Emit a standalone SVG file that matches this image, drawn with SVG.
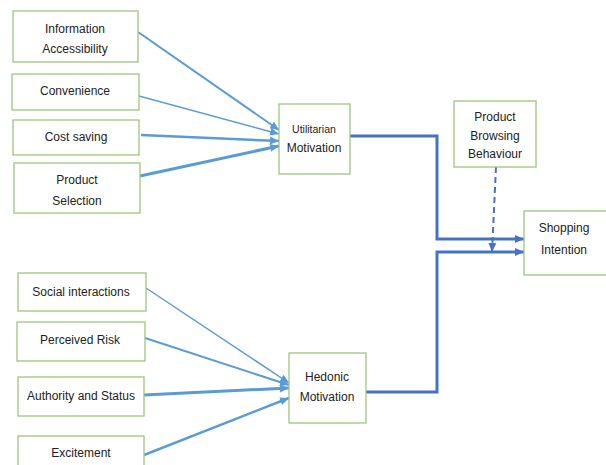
<svg xmlns="http://www.w3.org/2000/svg" width="606" height="465" viewBox="0 0 606 465">
<style>
.box{fill:#fff;stroke:#9dc77a;stroke-width:1.3}
text{font-family:"Liberation Sans",Arial,sans-serif;font-size:12px;fill:#222;text-anchor:middle;dominant-baseline:central}
.lb{fill:none;stroke:#5b9bd5}
.db{fill:none;stroke:#4472c4;stroke-width:3}
</style>
<defs>
<marker id="a1" markerUnits="userSpaceOnUse" markerWidth="10" markerHeight="10" refX="9" refY="5" orient="auto"><path d="M0,1 L9,5 L0,9 Z" fill="#5b9bd5"/></marker>
<marker id="a2" markerUnits="userSpaceOnUse" markerWidth="10" markerHeight="10" refX="9" refY="5" orient="auto"><path d="M0,1 L9,5 L0,9 Z" fill="#4472c4"/></marker>
</defs>
<rect width="606" height="465" fill="#fff"/>
<g id="connectors">
<line class="lb" x1="138" y1="32" x2="279" y2="130" stroke-width="2" marker-end="url(#a1)"/>
<line class="lb" x1="139" y1="96" x2="279" y2="134" stroke-width="1.5" marker-end="url(#a1)"/>
<line class="lb" x1="141" y1="135" x2="279" y2="141" stroke-width="2.5" marker-end="url(#a1)"/>
<line class="lb" x1="140" y1="176" x2="279" y2="146" stroke-width="3" marker-end="url(#a1)"/>
<line class="lb" x1="146" y1="288" x2="289" y2="383" stroke-width="1.5" marker-end="url(#a1)"/>
<line class="lb" x1="145" y1="338" x2="289" y2="385" stroke-width="2" marker-end="url(#a1)"/>
<line class="lb" x1="144" y1="395" x2="289" y2="388" stroke-width="3" marker-end="url(#a1)"/>
<line class="lb" x1="144" y1="455" x2="289" y2="398" stroke-width="2.5" marker-end="url(#a1)"/>
<polyline class="db" points="350,136 437,136 437,239 524,239" marker-end="url(#a2)"/>
<polyline class="db" points="366,392 437,392 437,252 524,252" marker-end="url(#a2)"/>
<line x1="496" y1="167" x2="492" y2="252" stroke="#4472c4" stroke-width="2" stroke-dasharray="6,4" marker-end="url(#a2)"/>
</g>
<g id="info"><rect class="box" x="13" y="11" width="125" height="51"/><text x="75" y="29">Information</text><text x="75" y="49">Accessibility</text></g>
<g id="convenience"><rect class="box" x="12" y="74" width="127" height="36"/><text x="75" y="91">Convenience</text></g>
<g id="cost"><rect class="box" x="13" y="120" width="126" height="35"/><text x="76" y="137">Cost saving</text></g>
<g id="selection"><rect class="box" x="14" y="163" width="126" height="50"/><text x="77" y="180">Product</text><text x="77" y="201">Selection</text></g>
<g id="utilitarian"><rect class="box" x="279" y="104" width="71" height="70"/><text x="314" y="129" style="font-size:10.5px">Utilitarian</text><text x="314" y="148">Motivation</text></g>
<g id="browsing"><rect class="box" x="454" y="101" width="82" height="66"/><text x="495" y="117">Product</text><text x="495" y="136">Browsing</text><text x="495" y="154">Behaviour</text></g>
<g id="shopping"><rect class="box" x="524" y="211" width="90" height="64"/><text x="564" y="228">Shopping</text><text x="564" y="250">Intention</text></g>
<g id="social"><rect class="box" x="18" y="273" width="128" height="38"/><text x="81" y="292">Social interactions</text></g>
<g id="risk"><rect class="box" x="17" y="322" width="128" height="39"/><text x="80" y="340">Perceived Risk</text></g>
<g id="authority"><rect class="box" x="18" y="377" width="126" height="39"/><text x="81" y="396">Authority and Status</text></g>
<g id="excitement"><rect class="box" x="18" y="436" width="126" height="40"/><text x="81" y="453">Excitement</text></g>
<g id="hedonic"><rect class="box" x="289" y="353" width="77" height="70"/><text x="327" y="377">Hedonic</text><text x="327" y="397">Motivation</text></g>
</svg>
